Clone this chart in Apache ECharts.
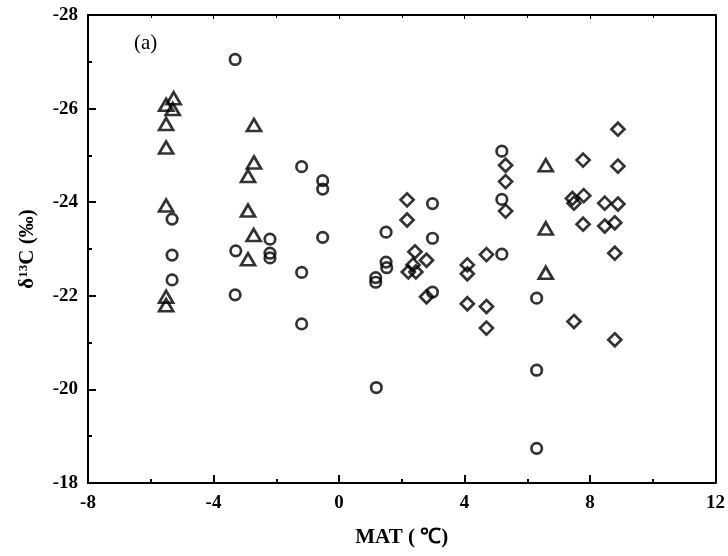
<!DOCTYPE html>
<html>
<head>
<meta charset="utf-8">
<script src="https://cdn.jsdelivr.net/npm/echarts@6/dist/echarts.min.js"></script>
<style>
  html, body { margin: 0; padding: 0; background: #fff; }
  #chart { width: 728px; height: 556px; }
</style>
</head>
<body>
<div id="chart"></div>
<script>
// MAT (°C) vs δ13C (‰) sample groups
const circleSites = [
  [-5.32, -23.64], [-5.32, -22.87], [-5.32, -22.34],
  [-3.31, -27.05], [-3.29, -22.96], [-3.31, -22.02],
  [-2.20, -23.21], [-2.20, -22.91], [-2.20, -22.81],
  [-1.19, -24.76], [-1.19, -22.50], [-1.19, -21.40],
  [-0.52, -24.46], [-0.52, -24.28], [-0.52, -23.25],
  [1.17, -22.39], [1.17, -22.29], [1.19, -20.04],
  [1.50, -23.36], [1.50, -22.72], [1.52, -22.60],
  [2.98, -23.97], [2.98, -23.23], [2.98, -22.08],
  [5.19, -25.09], [5.19, -24.06], [5.19, -22.89],
  [6.30, -21.95], [6.30, -20.41], [6.30, -18.74]
];
const triangleSites = [
  [-5.27, -26.22], [-5.51, -26.08], [-5.30, -25.99], [-5.51, -25.67],
  [-5.51, -25.17], [-5.51, -23.93], [-5.51, -21.98], [-5.51, -21.80],
  [-2.71, -25.65], [-2.71, -24.85], [-2.90, -24.56], [-2.90, -23.82],
  [-2.72, -23.30], [-2.90, -22.78],
  [6.59, -24.79], [6.59, -23.44], [6.59, -22.49]
];
const diamondSites = [
  [2.17, -24.05], [2.17, -23.62], [2.42, -22.94], [2.79, -22.76],
  [2.36, -22.66], [2.21, -22.51], [2.45, -22.51], [2.79, -21.98],
  [4.09, -22.66], [4.09, -22.47], [4.09, -21.83],
  [4.70, -22.88], [4.70, -21.77], [4.70, -21.31],
  [5.31, -24.79], [5.31, -24.44], [5.31, -23.81],
  [7.44, -24.08], [7.49, -23.98], [7.49, -21.45],
  [7.78, -24.90], [7.80, -24.14], [7.78, -23.53],
  [8.47, -23.98], [8.47, -23.49],
  [8.79, -23.56], [8.79, -22.91], [8.79, -21.06],
  [8.89, -25.56], [8.89, -24.77], [8.89, -23.96]
];

const xRange = { min: -8, max: 12, interval: 4 };
const yRange = { min: -28, max: -18, interval: 2 };

const FONT = 'Liberation Serif';
const black = '#000';

const openMarker = {
  color: 'transparent',
  borderColor: black,
  borderWidth: 2.7
};

const chart = echarts.init(document.getElementById('chart'), null, { renderer: 'canvas' });

chart.setOption({
  animation: false,
  backgroundColor: '#fff',
  grid: { left: 88, right: 9, top: 15, bottom: 73, containLabel: false },
  graphic: [{
    type: 'text',
    left: 134,
    top: 33,
    style: { text: '(a)', font: '21px "Liberation Serif"', fill: black }
  }],
  xAxis: [
    {
      type: 'value', position: 'bottom',
      min: xRange.min, max: xRange.max, interval: xRange.interval,
      name: 'MAT ( ℃)', nameLocation: 'middle', nameGap: 44,
      nameTextStyle: { fontFamily: FONT, fontWeight: 'bold', fontSize: 21, color: black },
      axisLine: { onZero: false, lineStyle: { color: black, width: 2 } },
      axisTick: { inside: true, length: 8, lineStyle: { color: black, width: 2 } },
      minorTick: { show: true, splitNumber: 2, length: 4, lineStyle: { color: black, width: 2 } },
      axisLabel: { fontFamily: FONT, fontWeight: 'bold', fontSize: 19, color: black, margin: 11 },
      splitLine: { show: false }
    },
    {
      type: 'value', position: 'top',
      min: xRange.min, max: xRange.max, interval: xRange.interval,
      axisLine: { onZero: false, lineStyle: { color: black, width: 2 } },
      axisTick: { inside: true, length: 4, lineStyle: { color: black, width: 1 } },
      minorTick: { show: true, splitNumber: 2, length: 3, lineStyle: { color: black, width: 1 } },
      axisLabel: { show: false },
      splitLine: { show: false }
    }
  ],
  yAxis: [
    {
      type: 'value', position: 'left', inverse: true,
      min: yRange.min, max: yRange.max, interval: yRange.interval,
      name: '{d|δ}{s|13}{d|C (‰)}', nameLocation: 'middle', nameGap: 50, nameRotate: 90,
      nameTextStyle: {
        rich: {
          d: { fontFamily: FONT, fontWeight: 'bold', fontSize: 21, color: black },
          s: { fontFamily: FONT, fontWeight: 'bold', fontSize: 13, color: black, verticalAlign: 'top', padding: [0, 0, 8, 0] }
        }
      },
      axisLine: { onZero: false, lineStyle: { color: black, width: 2 } },
      axisTick: { inside: true, length: 8, lineStyle: { color: black, width: 2 } },
      minorTick: { show: true, splitNumber: 2, length: 4, lineStyle: { color: black, width: 2 } },
      axisLabel: { fontFamily: FONT, fontWeight: 'bold', fontSize: 19, color: black, margin: 10 },
      splitLine: { show: false }
    },
    {
      type: 'value', position: 'right', inverse: true,
      min: yRange.min, max: yRange.max, interval: yRange.interval,
      axisLine: { onZero: false, lineStyle: { color: black, width: 2 } },
      axisTick: { show: false },
      axisLabel: { show: false },
      splitLine: { show: false }
    }
  ],
  series: [
    {
      name: 'circle', type: 'scatter', data: circleSites,
      symbol: 'circle', symbolSize: 10.5, itemStyle: openMarker
    },
    {
      name: 'triangle', type: 'scatter', data: triangleSites,
      symbol: 'triangle', symbolSize: [14, 12], itemStyle: openMarker
    },
    {
      name: 'diamond', type: 'scatter', data: diamondSites,
      symbol: 'diamond', symbolSize: [13, 13], itemStyle: openMarker
    }
  ]
});
</script>
</body>
</html>
